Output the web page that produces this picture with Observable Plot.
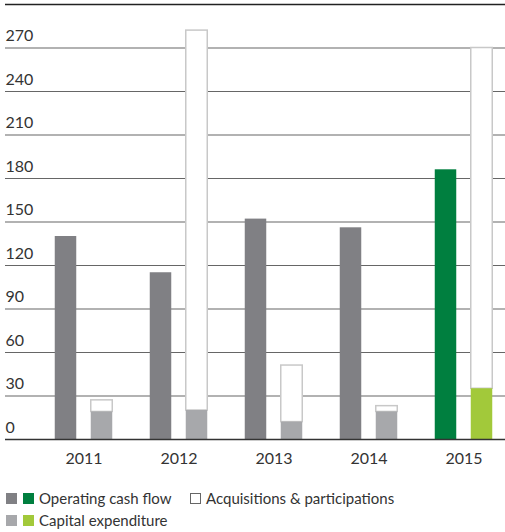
<!DOCTYPE html>
<html><head><meta charset="utf-8">
<script src="https://cdn.jsdelivr.net/npm/d3@7"></script>
<script src="https://cdn.jsdelivr.net/npm/@observablehq/plot@0.6"></script>
<style>
body{margin:0;background:#fff;font-family:Lato,sans-serif;color:#333}
#wrap{position:relative;width:505px;height:532px;overflow:hidden}
.sw{position:absolute;width:11px;height:11px;box-sizing:border-box}
.lt{position:absolute;font-size:15px;line-height:20px;white-space:nowrap;color:#333}
</style></head><body>
<div id="wrap"><div id="chart"></div><div id="legend"></div></div>
<script>
const years = ["2011", "2012", "2013", "2014", "2015"];
const operatingCashFlow = [140, 115, 152, 146, 186];
const capitalExpenditure = [19, 20, 12, 19, 35];
const acquisitions = [8, 262, 39, 4, 235];
const yTicks = [0, 30, 60, 90, 120, 150, 180, 210, 240, 270];
const yTop = 300;
const highlightYear = "2015";

const colors = {
  ocf: "#808084", ocfHi: "#007f3f",
  capex: "#a7a8ab", capexHi: "#a2c93a",
  acqStroke: "#c8c8c8"
};

const rows = years.map((y, i) => ({
  year: y,
  ocf: operatingCashFlow[i],
  capex: capitalExpenditure[i],
  total: capitalExpenditure[i] + acquisitions[i],
  hi: y === highlightYear
}));

const plot = Plot.plot({
  width: 505, height: 475,
  marginLeft: 5, marginRight: 0, marginTop: 4, marginBottom: 36,
  x: {domain: years, range: [34.25, 511.75], padding: 0, label: null},
  y: {domain: [0, yTop], axis: null},
  color: {type: "identity"},
  style: {fontFamily: "Lato, sans-serif", fontSize: "16px", color: "#333", background: "#fff", overflow: "visible"},
  marks: [
    Plot.ruleY(yTicks.filter(d => d > 0), {stroke: "#666", strokeWidth: 1.1}),
    Plot.ruleY([yTop], {stroke: "#222", strokeWidth: 1.5}),
    Plot.barY(rows, {x: "year", y1: 0, y2: "ocf", fill: d => d.hi ? colors.ocfHi : colors.ocf, insetLeft: 18.75, insetRight: 54.75}),
    Plot.barY(rows, {x: "year", y1: "capex", y2: "total", fill: "#fff", stroke: colors.acqStroke, strokeWidth: 1.5, insetLeft: 54.75, insetRight: 18.75}),
    Plot.barY(rows, {x: "year", y1: 0, y2: "capex", fill: d => d.hi ? colors.capexHi : colors.capex, insetLeft: 54.75, insetRight: 18.75}),
    Plot.ruleY([0], {stroke: "#333", strokeWidth: 1.5}),
    Plot.text(yTicks, {y: d => d, frameAnchor: "left", textAnchor: "start", dy: -12, fill: "#333", fontSize: 16}),
    Plot.axisX({tickSize: 0, tickPadding: 13, fontSize: 16, color: "#333", label: null})
  ]
});
document.getElementById("chart").appendChild(plot);

const legendItems = [
  {top: 493, swatches: [{left: 6, bg: colors.ocf}, {left: 23, bg: colors.ocfHi}], textLeft: 39, label: "Operating cash flow"},
  {top: 493, swatches: [{left: 190, bg: "#fff", border: "1px solid #666"}], textLeft: 206, label: "Acquisitions & participations"},
  {top: 515, swatches: [{left: 6, bg: colors.capex}, {left: 23, bg: colors.capexHi}], textLeft: 39, label: "Capital expenditure"}
];
const lg = document.getElementById("legend");
for (const it of legendItems) {
  for (const s of it.swatches) {
    const d = document.createElement("div");
    d.className = "sw";
    d.style.left = s.left + "px"; d.style.top = it.top + "px";
    d.style.background = s.bg;
    if (s.border) d.style.border = s.border;
    lg.appendChild(d);
  }
  const t = document.createElement("div");
  t.className = "lt";
  t.style.left = it.textLeft + "px"; t.style.top = (it.top - 5) + "px";
  t.textContent = it.label;
  lg.appendChild(t);
}
</script>
</body></html>
